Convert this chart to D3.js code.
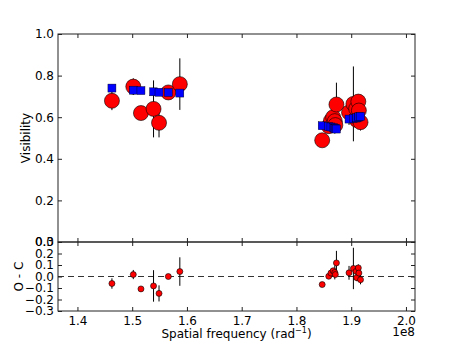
<!DOCTYPE html>
<html lang="en">
<head>
<meta charset="utf-8">
<title>Visibility vs spatial frequency</title>
<style>
  body { margin: 0; background: #fff; }
  text { font-family: "DejaVu Sans", sans-serif; }
</style>
</head>
<body>
<div id="chart"></div>
<script src="https://d3js.org/d3.v7.min.js"></script>
<script>
// spatial frequency in units of 1e8 rad^-1
const freq = [1.463, 1.502, 1.516, 1.539, 1.549, 1.566, 1.587,
  1.847, 1.859, 1.863, 1.867, 1.870, 1.871, 1.873,
  1.896, 1.904, 1.909, 1.910, 1.913, 1.914, 1.917]
// observed visibilities
const visObs = [0.679, 0.747, 0.620, 0.640, 0.573, 0.719, 0.759,
  0.489, 0.557, 0.583, 0.600, 0.581, 0.562, 0.661,
  0.623, 0.664, 0.641, 0.587, 0.675, 0.632, 0.576]
const visErr = [0.045, 0.04, 0.015, 0.137, 0.07, 0.015, 0.124,
  0.01, 0.01, 0.02, 0.02, 0.06, 0.02, 0.105,
  0.06, 0.18, 0.05, 0.03, 0.03, 0.03, 0.04]
// model visibilities
const visModel = [0.740, 0.730, 0.728, 0.722, 0.720, 0.719, 0.716,
  0.559, 0.555, 0.553, 0.550, 0.546, 0.545, 0.543,
  0.591, 0.594, 0.596, 0.597, 0.600, 0.602, 0.604]
// residuals O - C
const resid = [-0.061, 0.017, -0.108, -0.082, -0.147, 0.0, 0.043,
  -0.070, 0.002, 0.030, 0.050, 0.035, 0.017, 0.118,
  0.032, 0.070, 0.045, -0.010, 0.075, 0.030, -0.028]

const topTicks = [0.0, 0.2, 0.4, 0.6, 0.8, 1.0]
const botTicks = [-0.3, -0.2, -0.1, 0.0, 0.1, 0.2, 0.3]
const xTicks = [1.4, 1.5, 1.6, 1.7, 1.8, 1.9, 2.0]

const W = 461, H = 346
const left = 58, right = 415
const top1 = 34, bot1 = 242, bot2 = 311

const svg = d3.select("#chart").append("svg")
  .attr("width", W).attr("height", H)

const x = d3.scaleLinear().domain([1.3645, 2.0165]).range([left, right])
const y1 = d3.scaleLinear().domain([0, 1]).range([bot1, top1])
const y2 = d3.scaleLinear().domain([-0.3, 0.3]).range([bot2, bot1])

const pts = freq.map((f, i) => ({
  f: f, v: visObs[i], e: visErr[i], m: visModel[i], r: resid[i]
}))

const fmt = d3.format(".1f")
const minusFmt = v => fmt(v).replace("-", "\u2212")

function frame(yTop, yBot) {
  svg.append("rect")
    .attr("x", left).attr("y", yTop)
    .attr("width", right - left).attr("height", yBot - yTop)
    .attr("fill", "none").attr("stroke", "#222").attr("stroke-width", 1)
}

function axes(yScale, yTop, yBot, ticks, showX) {
  const styl = g => {
    g.select(".domain").remove()
    g.selectAll("line").attr("stroke", "#222")
    g.selectAll("text").attr("font-size", 12).attr("fill", "#000")
      .style("font-family", "DejaVu Sans, sans-serif")
  }
  svg.append("g").attr("transform", `translate(0,${yBot})`)
    .call(d3.axisBottom(x).tickValues(xTicks).tickSize(-4).tickPadding(5)
      .tickFormat(showX ? fmt : ""))
    .call(styl)
  svg.append("g").attr("transform", `translate(0,${yTop})`)
    .call(d3.axisTop(x).tickValues(xTicks).tickSize(-4).tickFormat(""))
    .call(styl)
  svg.append("g").attr("transform", `translate(${left},0)`)
    .call(d3.axisLeft(yScale).tickValues(ticks).tickSize(-4).tickPadding(4)
      .tickFormat(minusFmt))
    .call(styl)
  svg.append("g").attr("transform", `translate(${right},0)`)
    .call(d3.axisRight(yScale).tickValues(ticks).tickSize(-4).tickFormat(""))
    .call(styl)
}

// ---- top panel: visibilities
const g1 = svg.append("g")
g1.selectAll("line.err").data(pts).join("line")
  .attr("x1", d => x(d.f)).attr("x2", d => x(d.f))
  .attr("y1", d => y1(d.v - d.e)).attr("y2", d => y1(d.v + d.e))
  .attr("stroke", "#000").attr("stroke-width", 1)
g1.selectAll("circle").data(pts).join("circle")
  .attr("cx", d => x(d.f)).attr("cy", d => y1(d.v)).attr("r", 7.5)
  .attr("fill", "#ff0000").attr("stroke", "#000").attr("stroke-width", 0.6)
g1.selectAll("rect").data(pts).join("rect")
  .attr("x", d => x(d.f) - 4).attr("y", d => y1(d.m) - 4)
  .attr("width", 8).attr("height", 8)
  .attr("fill", "#0000ff").attr("stroke", "#000").attr("stroke-width", 0.4)

frame(top1, bot1)
axes(y1, top1, bot1, topTicks, false)

// ---- bottom panel: residuals
const g2 = svg.append("g")
g2.append("line")
  .attr("x1", left).attr("x2", right)
  .attr("y1", y2(0)).attr("y2", y2(0))
  .attr("stroke", "#333").attr("stroke-dasharray", "6,4")
g2.selectAll("line.err").data(pts).join("line")
  .attr("x1", d => x(d.f)).attr("x2", d => x(d.f))
  .attr("y1", d => y2(Math.max(-0.3, d.r - d.e)))
  .attr("y2", d => y2(Math.min(0.3, d.r + d.e)))
  .attr("stroke", "#000").attr("stroke-width", 1)
g2.selectAll("circle").data(pts).join("circle")
  .attr("cx", d => x(d.f)).attr("cy", d => y2(d.r)).attr("r", 3)
  .attr("fill", "#ff0000").attr("stroke", "#000").attr("stroke-width", 0.6)

frame(bot1, bot2)
axes(y2, bot1, bot2, botTicks, true)

// ---- labels
svg.append("text")
  .attr("transform", `translate(26,${(top1 + bot1) / 2}) rotate(-90)`)
  .attr("text-anchor", "middle").attr("dominant-baseline", "middle")
  .attr("font-size", 12).text("Visibility")
svg.append("text")
  .attr("transform", `translate(19,${(bot1 + bot2) / 2}) rotate(-90)`)
  .attr("text-anchor", "middle").attr("dominant-baseline", "middle")
  .attr("font-size", 12).text("O - C")

const xl = svg.append("text")
  .attr("x", (left + right) / 2).attr("y", 338)
  .attr("text-anchor", "middle").attr("font-size", 12)
xl.append("tspan").text("Spatial frequency (rad")
xl.append("tspan").attr("font-size", 8).attr("dy", -5).text("\u22121")
xl.append("tspan").attr("dy", 5).text(")")

svg.append("text")
  .attr("x", right).attr("y", 336)
  .attr("text-anchor", "end").attr("font-size", 12).text("1e8")
</script>
</body>
</html>
